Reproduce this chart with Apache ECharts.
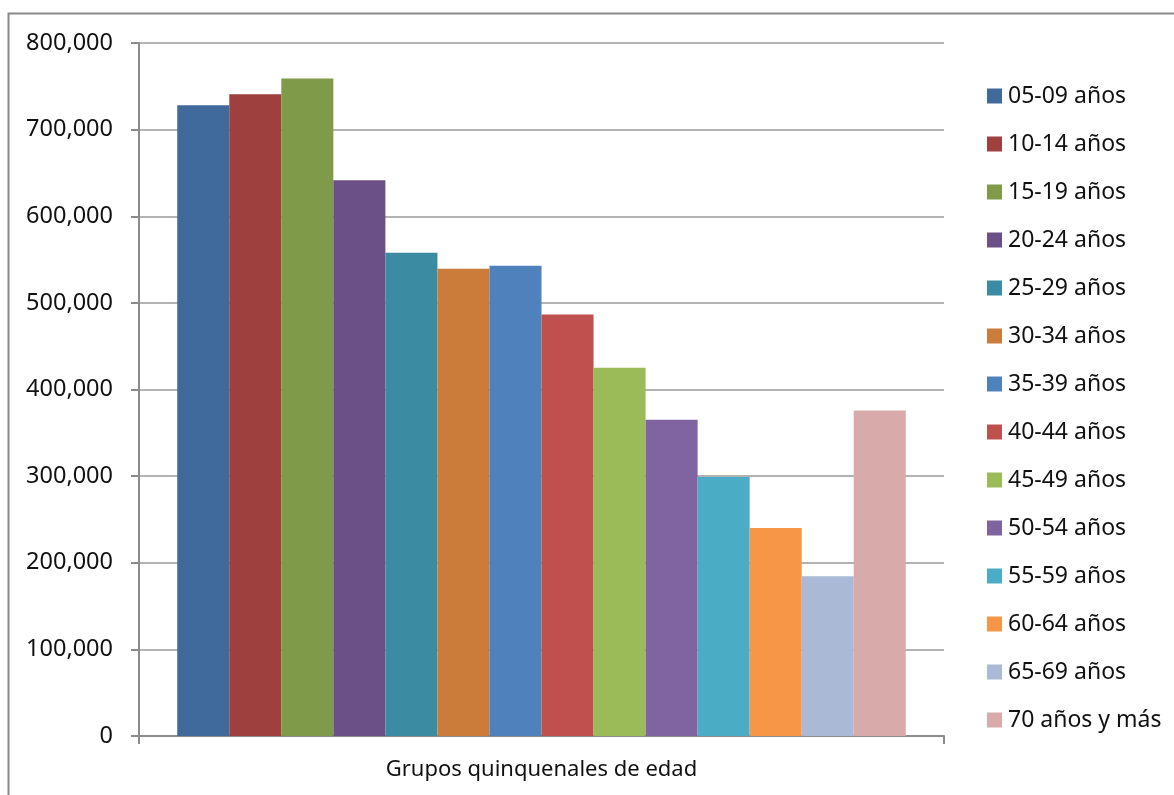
<!DOCTYPE html>
<html>
<head>
<meta charset="utf-8">
<script src="https://cdn.jsdelivr.net/npm/echarts@6/dist/echarts.min.js"></script>
<style>
  html, body { margin: 0; padding: 0; background: #fff; }
  #chart { width: 1174px; height: 795px; }
</style>
</head>
<body>
<div id="chart"></div>
<script>
// Población por grupos quinquenales de edad
const category = ['Grupos quinquenales de edad'];
const groups = ['05-09 años', '10-14 años', '15-19 años', '20-24 años', '25-29 años',
  '30-34 años', '35-39 años', '40-44 años', '45-49 años', '50-54 años',
  '55-59 años', '60-64 años', '65-69 años', '70 años y más'];
const values = [728000, 740700, 759000, 641500, 558000, 539500, 543000,
  486500, 425000, 365000, 299000, 240000, 184400, 375800];
const colors = ['#3F6A9B', '#9D403E', '#7F9A48', '#6A5087', '#3B8CA3', '#CB7B3A',
  '#4F81BD', '#C0504D', '#9BBB59', '#8064A2', '#4BACC6', '#F79646', '#A9B9D6', '#D9AAAA'];
const yTicks = { min: 0, max: 800000, step: 100000 };

const FONT = 'Noto Sans';
const axisGray = '#8c8c8c';

const chart = echarts.init(document.getElementById('chart'), null, { renderer: 'canvas' });

const series = groups.map((name, i) => ({
  name: name,
  type: 'bar',
  data: [values[i]],
  barGap: '0%',
  barCategoryGap: '9.5%',
  itemStyle: { color: colors[i] },
  emphasis: { disabled: true }
}));

chart.setOption({
  animation: false,
  backgroundColor: '#ffffff',
  color: colors,
  graphic: [{
    type: 'rect',
    shape: { x: 8.5, y: 13.5, width: 1200, height: 820 },
    style: { fill: 'none', stroke: '#898989', lineWidth: 2 },
    silent: true
  }],
  grid: { left: 139, right: 230, top: 43, bottom: 59, containLabel: false },
  legend: {
    orient: 'vertical',
    left: 987,
    top: 83,
    padding: 0,
    itemWidth: 15,
    itemHeight: 15,
    itemGap: 22,
    icon: 'rect',
    selectedMode: false,
    textStyle: { fontFamily: FONT, fontSize: 23, color: '#111', lineHeight: 26, padding: [0, 0, 0, 1] },
    data: groups
  },
  xAxis: {
    type: 'category',
    data: category,
    axisLine: { show: true, lineStyle: { color: axisGray, width: 2 } },
    axisTick: { show: true, length: 8, inside: false, lineStyle: { color: axisGray, width: 2 } },
    axisLabel: { fontFamily: FONT, fontSize: 22, color: '#111', margin: 23 }
  },
  yAxis: {
    type: 'value',
    min: yTicks.min,
    max: yTicks.max,
    interval: yTicks.step,
    axisLine: { show: true, lineStyle: { color: axisGray, width: 2 } },
    axisTick: { show: true, length: 8, lineStyle: { color: axisGray, width: 2 } },
    splitLine: { show: true, lineStyle: { color: '#9a9a9a', width: 1.5 } },
    axisLabel: {
      fontFamily: FONT, fontSize: 23.5, color: '#111', margin: 26,
      formatter: v => v.toLocaleString('en-US')
    }
  },
  series: series
});
</script>
</body>
</html>
